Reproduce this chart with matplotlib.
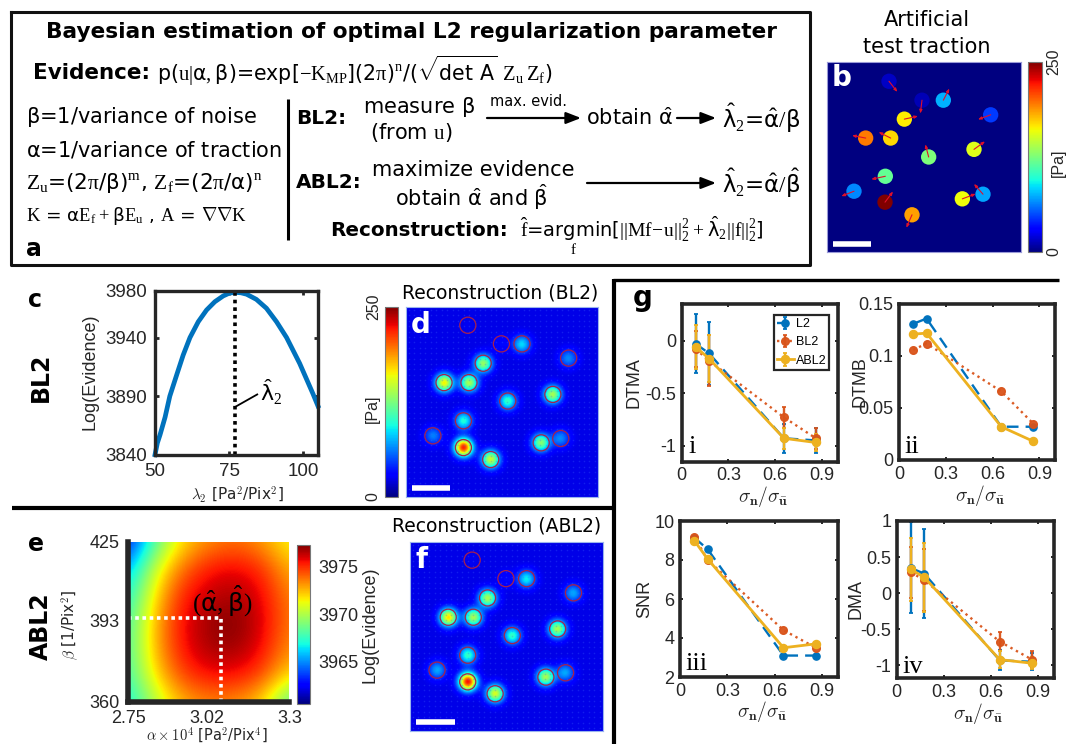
import numpy as np
import matplotlib
matplotlib.use("Agg")
import matplotlib.pyplot as plt
from matplotlib.cm import ScalarMappable
from matplotlib.colors import Normalize

W, H = 1073, 744
plt.rcParams["font.family"] = ["Liberation Sans", "DejaVu Sans"]
plt.rcParams["mathtext.fontset"] = "custom"
plt.rcParams["mathtext.rm"] = "Liberation Serif"
plt.rcParams["mathtext.sf"] = "DejaVu Sans"
plt.rcParams["mathtext.it"] = "DejaVu Sans:italic"
plt.rcParams["mathtext.bf"] = "Liberation Serif:bold"

DARK = "#262626"
BLUE, RED, YELLOW = "#0072BD", "#D95319", "#EDB120"

# panel b: artificial traction
b_x = [208, 307, 371, 513, 254, 138, 213, 327, 463, 197, 103, 196, 428, 490, 277]
b_y = [243, 300, 300, 344, 357, 414, 414, 471, 448, 529, 574, 607, 597, 583, 645]
b_val = [15, 12, 75, 45, 165, 195, 170, 125, 155, 118, 65, 250, 160, 72, 185]
b_end_x = [233, 302, 389, 475, 295, 97, 177, 317, 496, 155, 65, 220, 468, 463, 260]
b_end_y = [275, 340, 265, 358, 348, 406, 396, 433, 424, 538, 589, 575, 582, 552, 684]

# panel c: evidence curve
lam = [50, 50.8, 51.7, 53.4, 55, 57.3, 59.5, 61.8, 64.6, 67.4, 70.2, 73, 75, 76.9, 79, 80.9, 84.2,
       87.6, 91, 94.4, 98.8, 103.3, 105]
log_ev = [3840, 3850, 3857, 3872, 3890, 3908, 3925, 3940, 3953.5, 3963.5, 3970.6, 3975.5, 3977.8,
          3978.6, 3978.2, 3977, 3972.6, 3965, 3953.5, 3940, 3918, 3892, 3881.5]
lam_opt = 77

# panels d, f: reconstructed spots (fractions of the image)
spot_x = [.322, .497, .604, .847, .402, .198, .328, .765, .530, .299, .140, .299, .704, .806, .441]
spot_y = [.096, .194, .194, .269, .296, .398, .398, .460, .495, .599, .678, .740, .715, .692, .803]
peak_d = [.01, .04, .25, .17, .44, .56, .46, .46, .32, .30, .16, .78, .42, .17, .50]
peak_f = [.01, .04, .27, .20, .46, .58, .46, .46, .32, .32, .20, .80, .46, .20, .52]

# panel e: evidence surface, rows from beta=425 down to beta=360
ev_grid = [
    [3962.3, 3968.0, 3971.8, 3973.2, 3973.8, 3973.0, 3971.2],
    [3965.3, 3970.6, 3973.8, 3975.4, 3975.8, 3975.0, 3972.6],
    [3966.8, 3971.8, 3975.2, 3976.3, 3976.7, 3975.8, 3973.4],
    [3967.6, 3972.6, 3975.6, 3976.9, 3977.3, 3976.0, 3973.6],
    [3967.8, 3972.6, 3975.5, 3976.7, 3976.9, 3975.7, 3973.2],
    [3967.6, 3971.8, 3974.6, 3975.6, 3975.6, 3974.6, 3971.8],
    [3966.6, 3970.0, 3972.6, 3973.4, 3973.2, 3972.0, 3967.8],
]
alpha_opt, beta_opt = 3.067, 394.1

# panel g
noise = [0.09, 0.175, 0.655, 0.86]
dtma_l2 = [-0.03, -0.12, -0.93, -0.95]
dtma_bl2 = [-0.08, -0.19, -0.73, -0.93]
dtma_abl2 = [-0.06, -0.17, -0.93, -0.97]
dtma_l2_err = [0.28, 0.30, 0.14, 0.12]
dtma_bl2_err = [0.17, 0.24, 0.10, 0.10]
dtma_abl2_err = [0.21, 0.22, 0.10, 0.08]
dtmb_l2 = [0.131, 0.136, 0.032, 0.032]
dtmb_bl2 = [0.106, 0.112, 0.066, 0.035]
dtmb_abl2 = [0.121, 0.122, 0.032, 0.018]
snr_l2 = [9.15, 8.55, 3.1, 3.1]
snr_bl2 = [9.2, 8.0, 4.4, 3.5]
snr_abl2 = [9.0, 8.05, 3.5, 3.7]
dma_l2 = [0.35, 0.27, -0.93, -0.95]
dma_bl2 = [0.29, 0.18, -0.67, -0.92]
dma_abl2 = [0.33, 0.22, -0.92, -0.97]
dma_l2_err = [0.63, 0.62, 0.14, 0.12]
dma_bl2_err = [0.35, 0.43, 0.13, 0.12]
dma_abl2_err = [0.44, 0.48, 0.12, 0.08]

fig = plt.figure(figsize=(W / 100, H / 100), dpi=100)


def add_ax(x0, y0, x1, y1):
    # axes from reference pixel box
    return fig.add_axes([x0 / W, 1 - y1 / H, (x1 - x0) / W, (y1 - y0) / H])


over = fig.add_axes([0, 0, 1, 1], zorder=10)
over.set_xlim(0, W)
over.set_ylim(H, 0)
over.axis("off")
over.patch.set_alpha(0)


def txt(x, y, s, size=14, weight="normal", ha="left", va="center", color="black", rot=0, fam="DejaVu Sans",
        math="custom"):
    over.text(x, y, s, fontsize=size, fontweight=weight, ha=ha, va=va, color=color,
              rotation=rot, family=fam, clip_on=False, math_fontfamily=math)


def arrow(x0, x1, y):
    over.annotate("", xy=(x1, y), xytext=(x0, y),
                  arrowprops=dict(arrowstyle="-|>,head_width=0.35,head_length=0.9", color="black", lw=1.6,
                                  shrinkA=0, shrinkB=0))


def pixel_line(xs, ys, lw=3, color="black"):
    over.plot(xs, ys, color=color, lw=lw, solid_capstyle="butt", clip_on=False)


def vert_colorbar(x0, y0, x1, y1, vmin, vmax, ticks, side):
    cax = add_ax(x0, y0, x1, y1)
    fig.colorbar(ScalarMappable(Normalize(vmin, vmax), "jet"), cax=cax)
    cax.yaxis.set_ticks_position(side)
    cax.set_yticks(ticks)
    cax.tick_params(length=0, labelsize=11.5, pad=3, labelcolor=DARK)
    for s in cax.spines.values():
        s.set_color("#777777")
    return cax


# frames
over.plot([11, 810, 810, 11, 11], [12, 12, 265, 265, 12], color="#111111", lw=2.2)
pixel_line([12, 614], [508, 508], 3)
pixel_line([614, 614], [279, 744], 3)
pixel_line([613, 1059], [280, 280], 2.4)

# panel a text
txt(411, 32, "Bayesian estimation of optimal L2 regularization parameter", 15.6, "bold", ha="center")
txt(33, 73, "Evidence:", 15.5, "bold")
txt(157, 71, r"p($\mathrm{u}|\mathsf{\alpha},\mathsf{\beta}$)=exp[$-\mathrm{K_{MP}}$](2$\mathrm{\pi}$)$^{\mathrm{n}}$"
             r"/($\sqrt{\mathsf{det\ A}}\ \mathrm{Z_u\,Z_f}$)", 14.8)
txt(26, 117, r"$\mathsf{\beta}$=1/variance of noise", 15)
txt(26, 150, r"$\mathsf{\alpha}$=1/variance of traction", 15)
txt(26, 183, r"$\mathrm{Z_u}$=(2$\mathrm{\pi}$/$\mathsf{\beta}$)$^{\mathrm{m}}$, "
             r"$\mathrm{Z_f}$=(2$\mathrm{\pi}$/$\mathsf{\alpha}$)$^{\mathrm{n}}$", 15.5)
txt(26, 216, r"$\mathrm{K}$ = $\mathsf{\alpha}\mathrm{E_f}+\mathsf{\beta}\mathrm{E_u}$ , "
             r"$\mathrm{A}$ = $\nabla\nabla\mathrm{K}$", 13.3)
txt(26, 249, "a", 17, "bold")
pixel_line([288, 288], [99, 240], 2.2)
txt(296, 118, "BL2:", 14.5, "bold")
txt(363, 107, r"measure $\mathsf{\beta}$", 15)
txt(370, 133, r"(from $\mathrm{u}$)", 15)
txt(490, 102, "max. evid.", 10.5)
arrow(487, 581, 118)
txt(586, 118, r"obtain $\hat{\mathsf{\alpha}}$", 15)
arrow(677, 716, 118)
txt(722, 118, r"$\hat{\mathsf{\lambda}}_2$=$\hat{\mathsf{\alpha}}/\mathsf{\beta}$", 16.5)
txt(296, 183, "ABL2:", 14.5, "bold")
txt(372, 170, "maximize evidence", 15)
txt(395, 197, r"obtain $\hat{\mathsf{\alpha}}$ and $\hat{\mathsf{\beta}}$", 15)
arrow(587, 716, 183)
txt(722, 183, r"$\hat{\mathsf{\lambda}}_2$=$\hat{\mathsf{\alpha}}/\hat{\mathsf{\beta}}$", 16.5)
txt(330, 230, "Reconstruction:", 14.3, "bold")
txt(520, 229, r"$\hat{\mathrm{f}}$=argmin[$||\mathrm{Mf\!-\!u}||_2^2+\hat{\mathsf{\lambda}}_2||\mathrm{f}||_2^2$]", 14)
txt(574, 250, r"$\mathrm{f}$", 11, ha="center")

# panel b
txt(927, 20, "Artificial", 15, ha="center")
txt(927, 47, "test traction", 15, ha="center")
ax_b = add_ax(827, 62, 1021, 252)
ax_b.set_facecolor(plt.get_cmap("jet")(0.0))
ax_b.set_xlim(0, 582)
ax_b.set_ylim(572, 0)
ax_b.set_xticks([])
ax_b.set_yticks([])
for s in ax_b.spines.values():
    s.set_color("#9a9ad8")
ax_b.scatter(np.array(b_x) - 22, np.array(b_y) - 185, c=b_val, cmap="jet", vmin=0, vmax=250, s=122, linewidths=0)
for x, y, ex, ey in zip(b_x, b_y, b_end_x, b_end_y):
    ax_b.annotate("", xy=(ex - 22, ey - 185), xytext=(x - 22, y - 185),
                  arrowprops=dict(arrowstyle="-|>,head_width=0.08,head_length=0.2", color="#e0102a", lw=0.8,
                                  shrinkA=0, shrinkB=0))
txt(832, 78, "b", 20, "bold", color="white")
pixel_line([833, 871], [244, 244], 4, "white")
cb = vert_colorbar(1028, 62, 1042, 252, 0, 250, [0, 250], "right")
plt.setp(cb.get_yticklabels(), rotation=90, va="center")
txt(1058, 163, "[Pa]", 11.5, ha="center", rot=90, color=DARK, fam="Liberation Sans")

# panel c
txt(28, 300, "c", 17, "bold")
txt(41, 377, "BL2", 17, "bold", ha="center", rot=90)
ax_c = add_ax(155, 290.7, 318, 454.7)
ax_c.plot(lam, log_ev, color=BLUE, lw=3.4, clip_on=False)
ax_c.plot([lam_opt, lam_opt], [3840, 3980], color="black", lw=2.6, ls=(0, (1, 1.1)))
ax_c.set_xlim(50, 105)
ax_c.set_ylim(3840, 3980)
ax_c.set_xticks([50, 75, 100])
ax_c.set_yticks([3840, 3890, 3940, 3980])
ax_c.tick_params(direction="in", width=2, length=3, top=True, right=True, labelsize=13.5,
                 labelcolor=DARK, color=DARK, pad=6)
for s in ax_c.spines.values():
    s.set_linewidth(2.4)
    s.set_color(DARK)
txt(90, 372, "Log(Evidence)", 13, ha="center", rot=90, color=DARK, fam="Liberation Sans")
txt(237, 495, r"$\lambda_2$ [Pa$^2$/Pix$^2$]", 11, ha="center", color=DARK, math="cm")
pixel_line([235, 258], [407, 394], 1.3)
txt(260, 392, r"$\hat{\mathsf{\lambda}}_2$", 16)


# panels d, f
def recon(x0, y0, x1, y1, peaks):
    ax = add_ax(x0, y0, x1, y1)
    n_x, n_y = int(x1 - x0), int(y1 - y0)
    gx, gy = np.meshgrid(np.linspace(0, 1, n_x), np.linspace(0, 1, n_y))
    field = np.full((n_y, n_x), 0.09)
    for sx, sy, p in zip(spot_x, spot_y, peaks):
        field += p * np.exp(-(((gx - sx) * n_x) ** 2 + ((gy - sy) * n_y) ** 2) / (2 * 6.3 ** 2))
    ax.imshow(field, cmap="jet", vmin=0, vmax=1, extent=(0, 1, 1, 0), aspect="auto", interpolation="bilinear")
    lat_x, lat_y = np.meshgrid(np.arange(0.015, 1, 0.0285), np.arange(0.015, 1, 0.0285))
    ax.scatter(lat_x.ravel(), lat_y.ravel(), s=1.3, color="#3d66ff", alpha=0.3, linewidths=0)
    ax.scatter(spot_x, spot_y, s=135, facecolors="none", edgecolors="#a8204c", linewidths=0.9)
    ax.set_xlim(0, 1)
    ax.set_ylim(1, 0)
    ax.set_xticks([])
    ax.set_yticks([])
    for s in ax.spines.values():
        s.set_color("#9ab4ee")
    return ax


txt(500, 293, "Reconstruction (BL2)", 13.5, ha="center")
recon(406, 307, 598, 497, peak_d)
txt(411, 325, "d", 20, "bold", color="white")
pixel_line([412, 450], [488, 488], 4, "white")
cb = vert_colorbar(385, 307, 398, 497, 0, 250, [0, 250], "left")
plt.setp(cb.get_yticklabels(), rotation=90, va="center")
txt(372, 409, "[Pa]", 11.5, ha="center", rot=90, color=DARK, fam="Liberation Sans")

txt(497, 526, "Reconstruction (ABL2)", 13.5, ha="center")
recon(410, 542, 603, 731, peak_f)
txt(416, 560, "f", 20, "bold", color="white")
pixel_line([416, 455], [722, 722], 4, "white")

# panel e
txt(28, 544, "e", 17, "bold")
txt(41, 626, "ABL2", 17, "bold", ha="center", rot=90)
ax_e = add_ax(128.3, 542, 289.3, 702)
half_x, half_y = 0.55 / 12, 65 / 12
ax_e.imshow(ev_grid, cmap="jet", vmin=3960.6, vmax=3977.3, aspect="auto", interpolation="bicubic",
            extent=(2.75 - half_x, 3.3 + half_x, 360 - half_y, 425 + half_y))
ax_e.plot([2.75, alpha_opt], [beta_opt, beta_opt], color="white", lw=2.6, ls=(0, (1, 1)))
ax_e.plot([alpha_opt, alpha_opt], [360, beta_opt], color="white", lw=2.6, ls=(0, (1, 1)))
ax_e.set_xlim(2.75, 3.3)
ax_e.set_ylim(360, 425)
ax_e.set_xticks([2.75, 3.02, 3.3], ["2.75", "3.02", "3.3"])
ax_e.set_yticks([360, 393, 425])
ax_e.tick_params(length=0, labelsize=13, labelcolor=DARK, pad=6)
for name, s in ax_e.spines.items():
    s.set_visible(name in ("left", "bottom"))
    s.set_linewidth(4)
    s.set_color(DARK)
txt(223, 601, r"$(\hat{\mathsf{\alpha}},\hat{\mathsf{\beta}})$", 18, ha="center")
txt(70, 625, r"$\beta$ [1/Pix$^2$]", 11, ha="center", rot=90, color=DARK, math="cm")
txt(207, 735.5, r"$\alpha\times10^4$ [Pa$^2$/Pix$^4$]", 10.5, ha="center", color=DARK, math="cm")
cb = vert_colorbar(297.3, 544.7, 310, 703.7, 3960.6, 3977.3, [3965, 3970, 3975], "right")
cb.tick_params(labelsize=13, pad=6)
txt(370, 625, "Log(Evidence)", 13, ha="center", rot=90, color=DARK, fam="Liberation Sans")


# panel g
def series(ax, l2, bl2, abl2, errs=None):
    e1, e2, e3 = errs if errs else (None, None, None)
    ax.errorbar(noise, l2, yerr=e1, color=BLUE, ls=(0, (5, 3)), lw=1.7, marker="o", ms=5.2, label="L2",
                elinewidth=1.7, capsize=1.5, capthick=1.3, clip_on=True)
    ax.errorbar(noise, bl2, yerr=e2, color=RED, ls=":", lw=1.7, marker="o", ms=5.5, label="BL2",
                elinewidth=1.7, capsize=1.5, capthick=1.3, alpha=0.95)
    ax.errorbar(noise, abl2, yerr=e3, color=YELLOW, ls="-", lw=2.0, marker="o", ms=5.8, label="ABL2",
                elinewidth=1.7, capsize=1.5, capthick=1.3)


def style_g(ax, ylim, yticks, ylabels, name, roman, lab_x, rom_x, rom_y):
    ax.set_xlim(0, 1)
    ax.set_ylim(*ylim)
    ax.set_xticks([0, 0.3, 0.6, 0.9], ["0", "0.3", "0.6", "0.9"])
    ax.set_yticks(yticks, ylabels)
    ax.tick_params(direction="in", width=1.4, length=2.5, top=True, right=True, labelsize=13,
                   labelcolor=DARK, color=DARK, pad=4)
    for s in ax.spines.values():
        s.set_linewidth(2.6)
        s.set_color(DARK)
    pos = ax.get_position()
    cx = (pos.x0 + pos.x1) / 2 * W
    cy = (1 - (pos.y0 + pos.y1) / 2) * H
    txt(cx + 3, (1 - pos.y0) * H + 35, r"$\sigma_{\mathbf{n}}/\sigma_{\bar{\mathbf{u}}}$", 14, ha="center",
        color=DARK, math="cm")
    txt(lab_x, cy, name, 13, ha="center", rot=90, color=DARK, fam="Liberation Sans")
    txt(rom_x, rom_y, roman, 19, color="black", fam="Liberation Serif")


txt(633, 298, "g", 20, "bold")
ax1 = add_ax(681.7, 304, 837.7, 461.7)
series(ax1, dtma_l2, dtma_bl2, dtma_abl2, (dtma_l2_err, dtma_bl2_err, dtma_abl2_err))
style_g(ax1, (-1.153, 0.35), [-1, -0.5, 0], ["-1", "-0.5", "0"], "DTMA", "i", 634, 688, 447)
leg = ax1.legend(loc="upper left", bbox_to_anchor=(0.59, 0.93), fontsize=9, borderpad=0.25, labelspacing=0.5,
                 handlelength=1.35, handletextpad=0.15, fancybox=False, framealpha=1, edgecolor=DARK, borderaxespad=0)
leg.get_frame().set_linewidth(1.6)

ax2 = add_ax(899.3, 304, 1055, 460)
series(ax2, dtmb_l2, dtmb_bl2, dtmb_abl2)
style_g(ax2, (0, 0.15), [0, 0.05, 0.1, 0.15], ["0", "0.05", "0.1", "0.15"], "DTMB", "ii", 860, 904, 447)

ax3 = add_ax(680, 521, 838, 677)
series(ax3, snr_l2, snr_bl2, snr_abl2)
style_g(ax3, (2, 10), [2, 4, 6, 8, 10], ["2", "4", "6", "8", "10"], "SNR", "iii", 645, 685, 664)

ax4 = add_ax(896.7, 521, 1054, 678)
series(ax4, dma_l2, dma_bl2, dma_abl2, (dma_l2_err, dma_bl2_err, dma_abl2_err))
style_g(ax4, (-1.175, 1), [-1, -0.5, 0, 0.5, 1], ["-1", "-0.5", "0", "0.5", "1"], "DMA", "iv", 856, 902, 667)

fig.savefig("out.png", dpi=100)
